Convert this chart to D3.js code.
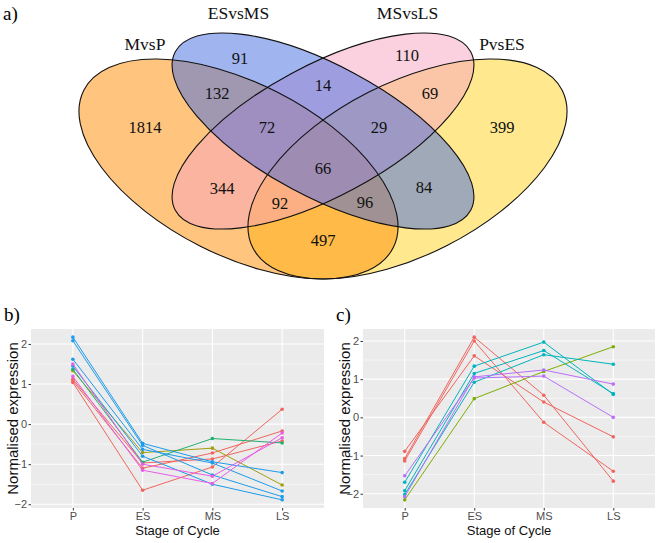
<!DOCTYPE html>
<html><head><meta charset="utf-8">
<script src="https://cdn.jsdelivr.net/npm/d3@7/dist/d3.min.js"></script>
<style>body{margin:0;background:#fff}</style>
</head><body><svg id="c" width="660" height="543"></svg>
<script>
// ---------- DATA ----------
const vennSets = ["MvsP", "ESvsMS", "MSvsLS", "PvsES"];
const vennRegions = ["M", "E", "S", "P", "ME", "ES", "SP", "MS", "EP", "MP", "MES", "ESP", "MSP", "MEP", "MESP"];
const vennCounts = [1814, 91, 110, 399, 132, 14, 69, 344, 84, 497, 72, 29, 92, 96, 66];

const stages = ["P", "ES", "MS", "LS"];
const yTicks = [-2, -1, 0, 1, 2];

const bValues = [
  [1.04, -1.65, -1.07, 0.37],
  [1.12, -0.97, -0.87, -0.42],
  [1.08, -1.10, -0.72, -0.17],
  [1.33, -0.71, -0.60, -1.52],
  [1.37, -0.95, -0.36, -0.47],
  [2.17, -0.48, -0.94, -1.21],
  [2.08, -0.53, -1.27, -1.81],
  [1.62, -0.63, -0.97, -1.67],
  [1.45, -0.80, -1.50, -1.89],
  [1.50, -1.00, -1.30, -0.34],
  [1.19, -1.15, -1.48, -0.22]
];
const bCluster = [0, 0, 0, 1, 2, 3, 3, 3, 3, 4, 4];

const cValues = [
  [-1.08, 2.10, 0.58, -1.67],
  [-1.14, 2.00, -0.13, -1.41],
  [-0.89, 1.61, 0.40, -0.51],
  [-2.16, 0.49, 1.20, 1.85],
  [-1.70, 1.34, 1.97, 0.60],
  [-1.92, 1.15, 1.75, 0.62],
  [-2.02, 0.92, 1.64, 1.39],
  [-1.53, 1.03, 1.08, 0.00],
  [-2.08, 1.06, 1.24, 0.87]
];
const cCluster = [0, 0, 0, 1, 2, 2, 2, 3, 3];

// ---------- STYLE / LAYOUT ----------
const bColors = ["#F0655E", "#A09E10", "#22B070", "#1C9CEA", "#E95CE6"];
const cColors = ["#F0655E", "#7CAE00", "#00B5BD", "#B96FFA"];

const svg = d3.select("#c");
const serif = "'Liberation Serif','Times New Roman',serif";
const sans = "'Liberation Sans',Arial,sans-serif";
const narrow = "'Liberation Sans Narrow','Liberation Sans',Arial,sans-serif";

// Venn layout
const ellipses = {
  M: {cx: 238.5, cy: 169, rx: 173.6, ry: 86.1, rot: 27, fill: "#FF8C00"},
  E: {cx: 323, cy: 131, rx: 167.6, ry: 65.6, rot: 28.2, fill: "#4169E1"},
  S: {cx: 323, cy: 131, rx: 167.6, ry: 65.6, rot: -28.2, fill: "#F7A3C0"},
  P: {cx: 407.5, cy: 169, rx: 173.6, ry: 86.1, rot: -27, fill: "#FFD21E"}
};
const setKeys = ["M", "E", "S", "P"];
const drawOrder = ["P", "M", "S", "E"];
const setLabelPos = {M: [145, 50], E: [238.5, 19], S: [407.5, 19], P: [502, 50]};
const regionPos = {
  M: [145, 127], E: [240, 58], S: [407, 55], P: [502, 127],
  ME: [217, 93], ES: [323, 85], SP: [430, 93], MS: [222, 188], EP: [424, 187], MP: [323, 240],
  MES: [267, 127], ESP: [379, 127], MSP: [280, 203], MEP: [365, 202], MESP: [323, 168]
};

const gv = svg.append("g");
drawOrder.forEach(k => {
  const e = ellipses[k];
  gv.append("ellipse").attr("cx", e.cx).attr("cy", e.cy).attr("rx", e.rx).attr("ry", e.ry)
    .attr("transform", `rotate(${e.rot},${e.cx},${e.cy})`)
    .attr("fill", e.fill).attr("fill-opacity", 0.5).attr("stroke", "none");
});
drawOrder.forEach(k => {
  const e = ellipses[k];
  gv.append("ellipse").attr("cx", e.cx).attr("cy", e.cy).attr("rx", e.rx).attr("ry", e.ry)
    .attr("transform", `rotate(${e.rot},${e.cx},${e.cy})`)
    .attr("fill", "none").attr("stroke", "#111").attr("stroke-width", 1.1);
});
vennRegions.forEach((r, i) => {
  const p = regionPos[r];
  gv.append("text").attr("x", p[0]).attr("y", p[1]).attr("dy", "0.35em")
    .attr("text-anchor", "middle").attr("font-family", serif).attr("font-size", 16.5)
    .attr("fill", "#111").text(vennCounts[i]);
});
vennSets.forEach((s, i) => {
  const p = setLabelPos[setKeys[i]];
  gv.append("text").attr("x", p[0]).attr("y", p[1]).attr("text-anchor", "middle")
    .attr("font-family", serif).attr("font-size", 17.5).attr("fill", "#111").text(s);
});
svg.append("text").attr("x", 3).attr("y", 20).attr("font-family", serif).attr("font-size", 19).text("a)");

// ---------- line panels ----------
function panel(o) {
  const g = svg.append("g");
  const all = o.values.flat();
  const ext = d3.extent(all);
  const pad = (ext[1] - ext[0]) * 0.05;
  const x = d3.scalePoint().domain(stages).range([o.left, o.right]).padding(0.6);
  const y = d3.scaleLinear().domain([ext[0] - pad, ext[1] + pad]).range([o.bottom, o.top]);

  g.append("rect").attr("x", o.left).attr("y", o.top).attr("width", o.right - o.left)
    .attr("height", o.bottom - o.top).attr("fill", "#EBEBEB");
  const minor = d3.range(-2.5, 3, 1).filter(v => v > y.domain()[0] && v < y.domain()[1]);
  g.selectAll(".mn").data(minor).join("line").attr("x1", o.left).attr("x2", o.right)
    .attr("y1", d => y(d)).attr("y2", d => y(d)).attr("stroke", "#fff").attr("stroke-width", 0.55);
  g.selectAll(".mj").data(yTicks).join("line").attr("x1", o.left).attr("x2", o.right)
    .attr("y1", d => y(d)).attr("y2", d => y(d)).attr("stroke", "#fff").attr("stroke-width", 1.1);
  g.selectAll(".vx").data(stages).join("line").attr("y1", o.top).attr("y2", o.bottom)
    .attr("x1", d => x(d)).attr("x2", d => x(d)).attr("stroke", "#fff").attr("stroke-width", 1.1);

  const line = d3.line().x((d, i) => x(stages[i])).y(d => y(d));
  o.values.forEach((vals, i) => {
    const col = o.colors[o.cluster[i]];
    g.append("path").attr("d", line(vals)).attr("fill", "none").attr("stroke", col).attr("stroke-width", 1);
    g.selectAll(null).data(vals).join("circle").attr("cx", (d, j) => x(stages[j])).attr("cy", d => y(d))
      .attr("r", 1.8).attr("fill", col);
  });

  const ya = g.append("g").attr("transform", `translate(${o.left},0)`)
    .call(d3.axisLeft(y).tickValues(yTicks).tickSize(2.5).tickPadding(1.5).tickFormat(d3.format("d")));
  const xa = g.append("g").attr("transform", `translate(0,${o.bottom})`)
    .call(d3.axisBottom(x).tickSize(2.5).tickPadding(2));
  [ya, xa].forEach(a => {
    a.select(".domain").remove();
    a.selectAll(".tick line").attr("stroke", "#333");
    a.selectAll("text").attr("font-family", narrow).attr("font-size", 11).attr("fill", "#4D4D4D");
  });

  g.append("text").attr("x", (o.left + o.right) / 2).attr("y", 535).attr("text-anchor", "middle")
    .attr("font-family", narrow).attr("font-size", 13).attr("fill", "#111").text("Stage of Cycle");
  g.append("text").attr("transform", `translate(${o.ytx},${(o.top + o.bottom) / 2}) rotate(-90)`)
    .attr("text-anchor", "middle").attr("dy", "0.35em")
    .attr("font-family", sans).attr("font-size", 15).attr("fill", "#111").text("Normalised expression");
  svg.append("text").attr("x", o.lx).attr("y", 321).attr("font-family", serif).attr("font-size", 19).text(o.label);
}

panel({left: 31, right: 324, top: 329, bottom: 508, values: bValues, cluster: bCluster, colors: bColors, ytx: 13, lx: 4, label: "b)"});
panel({left: 363, right: 655, top: 329, bottom: 508, values: cValues, cluster: cCluster, colors: cColors, ytx: 345, lx: 336, label: "c)"});
</script></body></html>
